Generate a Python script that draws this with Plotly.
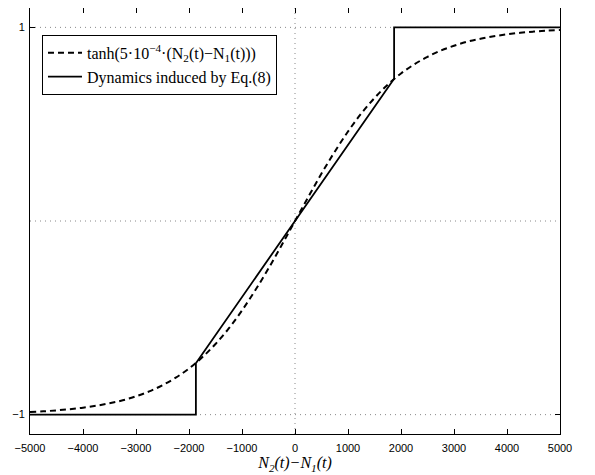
import plotly.graph_objects as go

# Dashed curve: values
tanh_x = [-5000, -4750, -4500, -4250, -4000, -3750, -3500, -3250, -3000, -2750, -2500, -2250,
          -2000, -1750, -1500, -1250, -1000, -750, -500, -250, 0,
          250, 500, 750, 1000, 1250, 1500, 1750, 2000, 2250, 2500, 2750,
          3000, 3250, 3500, 3750, 4000, 4250, 4500, 4750, 5000]
tanh_y = [-0.987, -0.983, -0.978, -0.972, -0.964, -0.954, -0.941, -0.926, -0.905, -0.880, -0.848, -0.809,
          -0.762, -0.704, -0.635, -0.555, -0.462, -0.358, -0.245, -0.124, 0.0,
          0.124, 0.245, 0.358, 0.462, 0.555, 0.635, 0.704, 0.762, 0.809, 0.848, 0.880,
          0.905, 0.926, 0.941, 0.954, 0.964, 0.972, 0.978, 0.983, 0.987]

# Solid curve (piecewise): values
dyn_x = [-5000, -1870, -1870, 1870, 1870, 5000]
dyn_y = [-1.0, -1.0, -0.735, 0.735, 1.0, 1.0]

x_ticks = [-5000, -4000, -3000, -2000, -1000, 0, 1000, 2000, 3000, 4000, 5000]
y_ticks = [-1, 1]

legend_tanh = "tanh(5·10<sup>−4</sup>·(N<sub>2</sub>(t)−N<sub>1</sub>(t)))"
legend_dyn = "Dynamics induced by Eq.(8)"

fig = go.Figure()
fig.add_trace(go.Scatter(x=tanh_x, y=tanh_y, mode="lines", name=legend_tanh,
                         line=dict(color="black", width=2, dash="6px,4px", shape="spline")))
fig.add_trace(go.Scatter(x=dyn_x, y=dyn_y, mode="lines", name=legend_dyn,
                         line=dict(color="black", width=1.8)))

grid = dict(color="#888888", width=1, dash="1px,4px")
fig.add_shape(type="line", xref="x", yref="y", x0=0, x1=0, y0=-1.1, y1=1.1, line=grid, layer="below")
fig.add_shape(type="line", xref="x", yref="y", x0=-5000, x1=5000, y0=0, y1=0, line=grid, layer="below")
for yv in y_ticks:
    fig.add_shape(type="line", xref="x", yref="y", x0=-5000, x1=5000, y0=yv, y1=yv, line=grid, layer="below")

fig.update_layout(
    width=595, height=475,
    margin=dict(l=22, r=43, t=0, b=49, autoexpand=False),
    paper_bgcolor="white", plot_bgcolor="white",
    showlegend=True,
    legend=dict(x=0.0226, y=0.937, xanchor="left", yanchor="top",
                bgcolor="white", bordercolor="black", borderwidth=1,
                font=dict(family="Liberation Serif", size=16, color="black"),
                tracegroupgap=0, itemwidth=34),
    font=dict(family="Liberation Sans", size=11, color="black"),
)
fig.update_xaxes(range=[-5000, 5000], tickvals=x_ticks,
                 ticktext=[f"{v}".replace("-", "−") for v in x_ticks],
                 ticks="inside", ticklen=5, tickcolor="black", ticklabelstandoff=4,
                 showline=True, linecolor="black", linewidth=1, mirror="ticks",
                 showgrid=False, zeroline=False,
                 tickfont=dict(family="Liberation Sans", size=11),
                 title=dict(text="<i>N<sub>2</sub>(t)−N<sub>1</sub>(t)</i>",
                            font=dict(family="Liberation Serif", size=16), standoff=3))
fig.update_yaxes(range=[-1.1, 1.1], tickvals=y_ticks, ticktext=["−1", "1"],
                 ticks="inside", ticklen=5, tickcolor="black", ticklabelstandoff=2,
                 showline=True, linecolor="black", linewidth=1, mirror="ticks",
                 showgrid=False, zeroline=False,
                 tickfont=dict(family="Liberation Sans", size=11))

fig.write_html("out.html")
